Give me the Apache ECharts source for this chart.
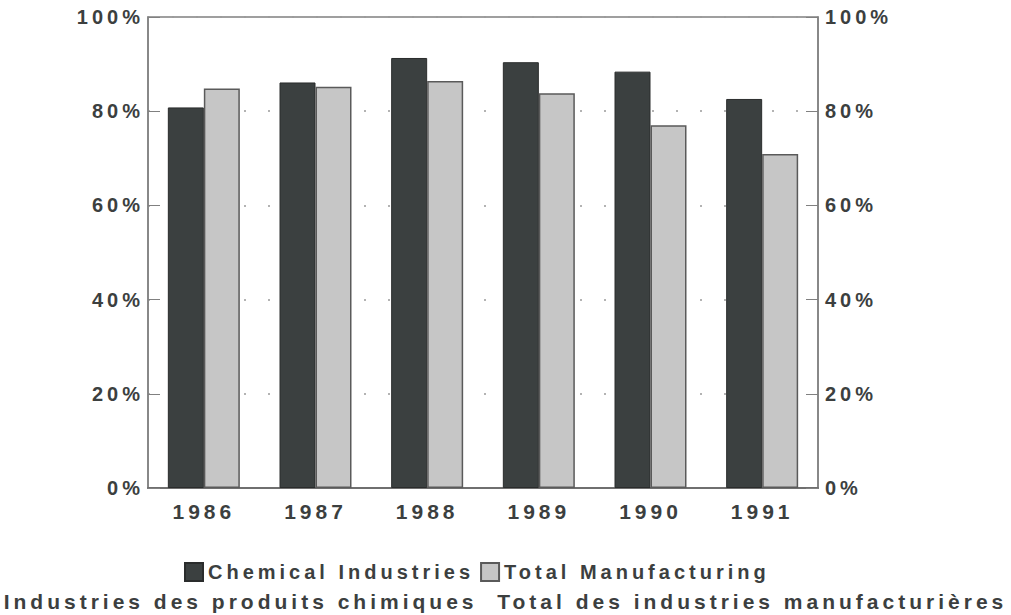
<!DOCTYPE html>
<html>
<head>
<meta charset="utf-8">
<script src="https://cdn.jsdelivr.net/npm/echarts@6/dist/echarts.min.js"></script>
<style>
  html, body { margin: 0; padding: 0; background: #fff; }
  #chart { width: 1011px; height: 615px; }
  /* the scanned original uses very wide letter spacing */
  #chart text { letter-spacing: 4px; }
</style>
</head>
<body>
<div id="chart"></div>
<script>
// years on the x axis
const years = ['1986', '1987', '1988', '1989', '1990', '1991']
// share in percent
const chemical = [80.8, 86.1, 91.3, 90.4, 88.4, 82.6]
const manufacturing = [84.8, 85.2, 86.4, 83.8, 77.0, 70.9]
const frenchLine = 'Industries des produits chimiques  Total des industries manufacturières'

const font = '"Liberation Sans", Arial, sans-serif'
const textColor = '#3c3f3f'

const chart = echarts.init(document.getElementById('chart'), null, { renderer: 'svg' })

// y axis settings shared by left and right side
const pctAxis = (position) => ({
  type: 'value',
  position: position,
  min: 0,
  max: 100,
  interval: 20,
  axisLine: { show: true, lineStyle: { color: '#808080', width: 1.5 } },
  axisTick: { show: true, inside: true, length: 12, lineStyle: { color: '#808080' } },
  axisLabel: {
    formatter: '{value}%',
    color: textColor,
    fontFamily: font,
    fontWeight: 'bold',
    fontSize: 20,
    margin: position === 'left' ? 4 : 7
  },
  splitLine: { show: false }
})

const leftAxis = pctAxis('left')
leftAxis.splitLine = {
  show: true,
  lineStyle: { type: [2, 22], color: '#9a9a9a', width: 1.5 }
}

const option = {
  backgroundColor: '#fff',
  animation: false,
  title: {
    text: frenchLine,
    left: '49.5%',
    textAlign: 'center',
    top: 586,
    textStyle: {
      color: textColor,
      fontFamily: font,
      fontWeight: 'bold',
      fontSize: 21
    }
  },
  grid: {
    left: 148,
    right: 193,
    top: 17,
    bottom: 127,
    show: true,
    borderColor: '#808080',
    borderWidth: 1.5
  },
  legend: {
    left: 184,
    top: 562,
    padding: 0,
    icon: 'rect',
    itemWidth: 18,
    itemHeight: 18,
    itemGap: 82,
    data: ['Chemical Industries', 'Total Manufacturing'],
    textStyle: {
      color: textColor,
      fontFamily: font,
      fontWeight: 'bold',
      fontSize: 20
    }
  },
  xAxis: {
    type: 'category',
    data: years,
    axisLine: { lineStyle: { color: '#6f6f6f', width: 2 } },
    axisTick: { show: false },
    axisLabel: {
      color: textColor,
      fontFamily: font,
      fontWeight: 'bold',
      fontSize: 21,
      margin: 13
    }
  },
  yAxis: [leftAxis, pctAxis('right')],
  series: [
    {
      name: 'Chemical Industries',
      type: 'bar',
      data: chemical,
      barWidth: 36,
      barGap: '0%',
      itemStyle: { color: '#3b4040', borderColor: '#2a2c2c', borderWidth: 1 }
    },
    {
      name: 'Total Manufacturing',
      type: 'bar',
      data: manufacturing,
      barWidth: 36,
      itemStyle: { color: '#c6c6c6', borderColor: '#5a5a5a', borderWidth: 1.5 }
    }
  ]
}

chart.setOption(option)
</script>
</body>
</html>
